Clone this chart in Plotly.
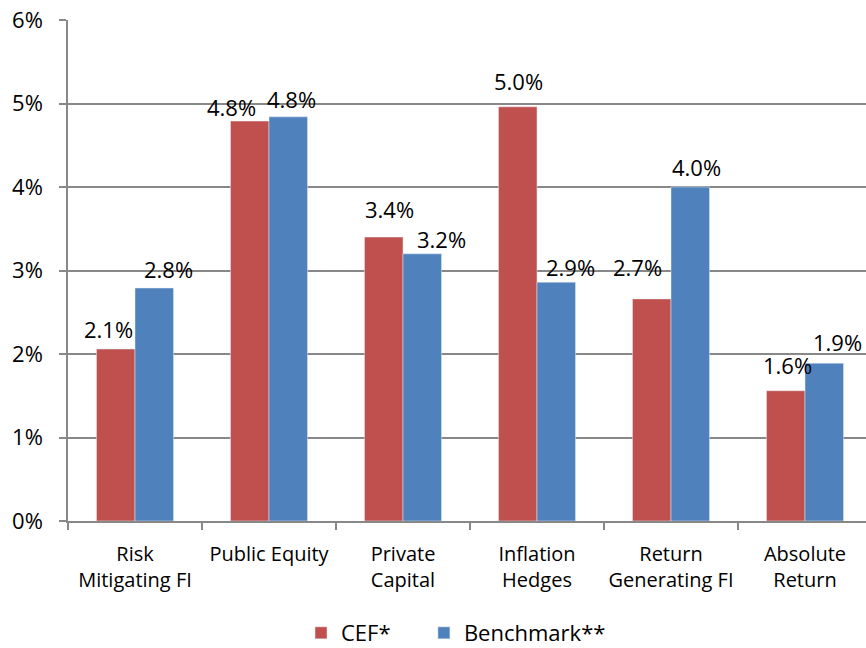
import plotly.graph_objects as go

categories = ["Risk<br>Mitigating FI", "Public Equity", "Private<br>Capital",
              "Inflation<br>Hedges", "Return<br>Generating FI", "Absolute<br>Return"]
cef = [2.06, 4.79, 3.40, 4.96, 2.66, 1.56]
benchmark = [2.79, 4.84, 3.20, 2.86, 4.00, 1.89]
y_ticks = [0, 1, 2, 3, 4, 5, 6]

# label offsets (pixels) relative to category centre / bar top
cef_dx = [-27, -37.5, -13.5, -18.5, -34, -18]
cef_dy = [20, 14, 28, 26, 31.5, 26]
ben_dx = [33, 22, 38.5, 33, 25, 32.5]
ben_dy = [19, 18, 15, 15.5, 20.5, 21]

RED = "#C0504D"
BLUE = "#4F81BD"
GRID = "#888888"
FONT = "Open Sans"

fig = go.Figure()
fig.add_trace(go.Bar(name="CEF*", x=categories, y=cef, marker_color=RED, legend="legend"))
fig.add_trace(go.Bar(name="Benchmark**", x=categories, y=benchmark, marker_color=BLUE,
                     legend="legend2"))

for series, dxs, dys in ((cef, cef_dx, cef_dy), (benchmark, ben_dx, ben_dy)):
    for c, v, dx, dy in zip(categories, series, dxs, dys):
        fig.add_annotation(x=c, y=v, text=f"{v:.1f}%", showarrow=False,
                           xshift=dx, yshift=dy, xanchor="center", yanchor="middle",
                           font=dict(family=FONT, size=22, color="#000000"))

legend_common = dict(orientation="h", y=-0.2236, yanchor="middle", xanchor="left",
                     font=dict(family=FONT, size=22), itemwidth=30,
                     bgcolor="rgba(0,0,0,0)")

fig.update_layout(
    width=866, height=648,
    margin=dict(l=68, r=0, t=20, b=127, autoexpand=False),
    paper_bgcolor="white", plot_bgcolor="white",
    barmode="group", bargap=0.425, bargroupgap=0,
    font=dict(family=FONT, size=20, color="#000000"),
    showlegend=True,
    legend=dict(x=0.292, **legend_common),
    legend2=dict(x=0.446, **legend_common),
)
fig.update_xaxes(
    type="category", range=[-0.5, -0.5 + 798 / 134],
    showline=True, linecolor=GRID, linewidth=1.5,
    ticks="outside", tickson="boundaries", ticklen=7, tickcolor=GRID, tickwidth=1.5,
    tickfont=dict(family=FONT, size=20), showgrid=False, tickangle=0, automargin=False,
    ticklabelstandoff=14,
)
fig.update_yaxes(
    range=[0, 6], tickmode="array", tickvals=y_ticks,
    ticktext=[f"{t}%" for t in y_ticks],
    showline=True, linecolor=GRID, linewidth=1.5,
    ticks="outside", ticklen=7, tickcolor=GRID, tickwidth=1.5,
    showgrid=True, gridcolor=GRID, gridwidth=1.5, zeroline=False,
    tickfont=dict(family=FONT, size=22), ticklabelstandoff=12, automargin=False,
)

fig.write_html("out.html", config={"displayModeBar": False},
               post_script="document.body.style.margin='0';document.body.style.overflow='hidden';")
